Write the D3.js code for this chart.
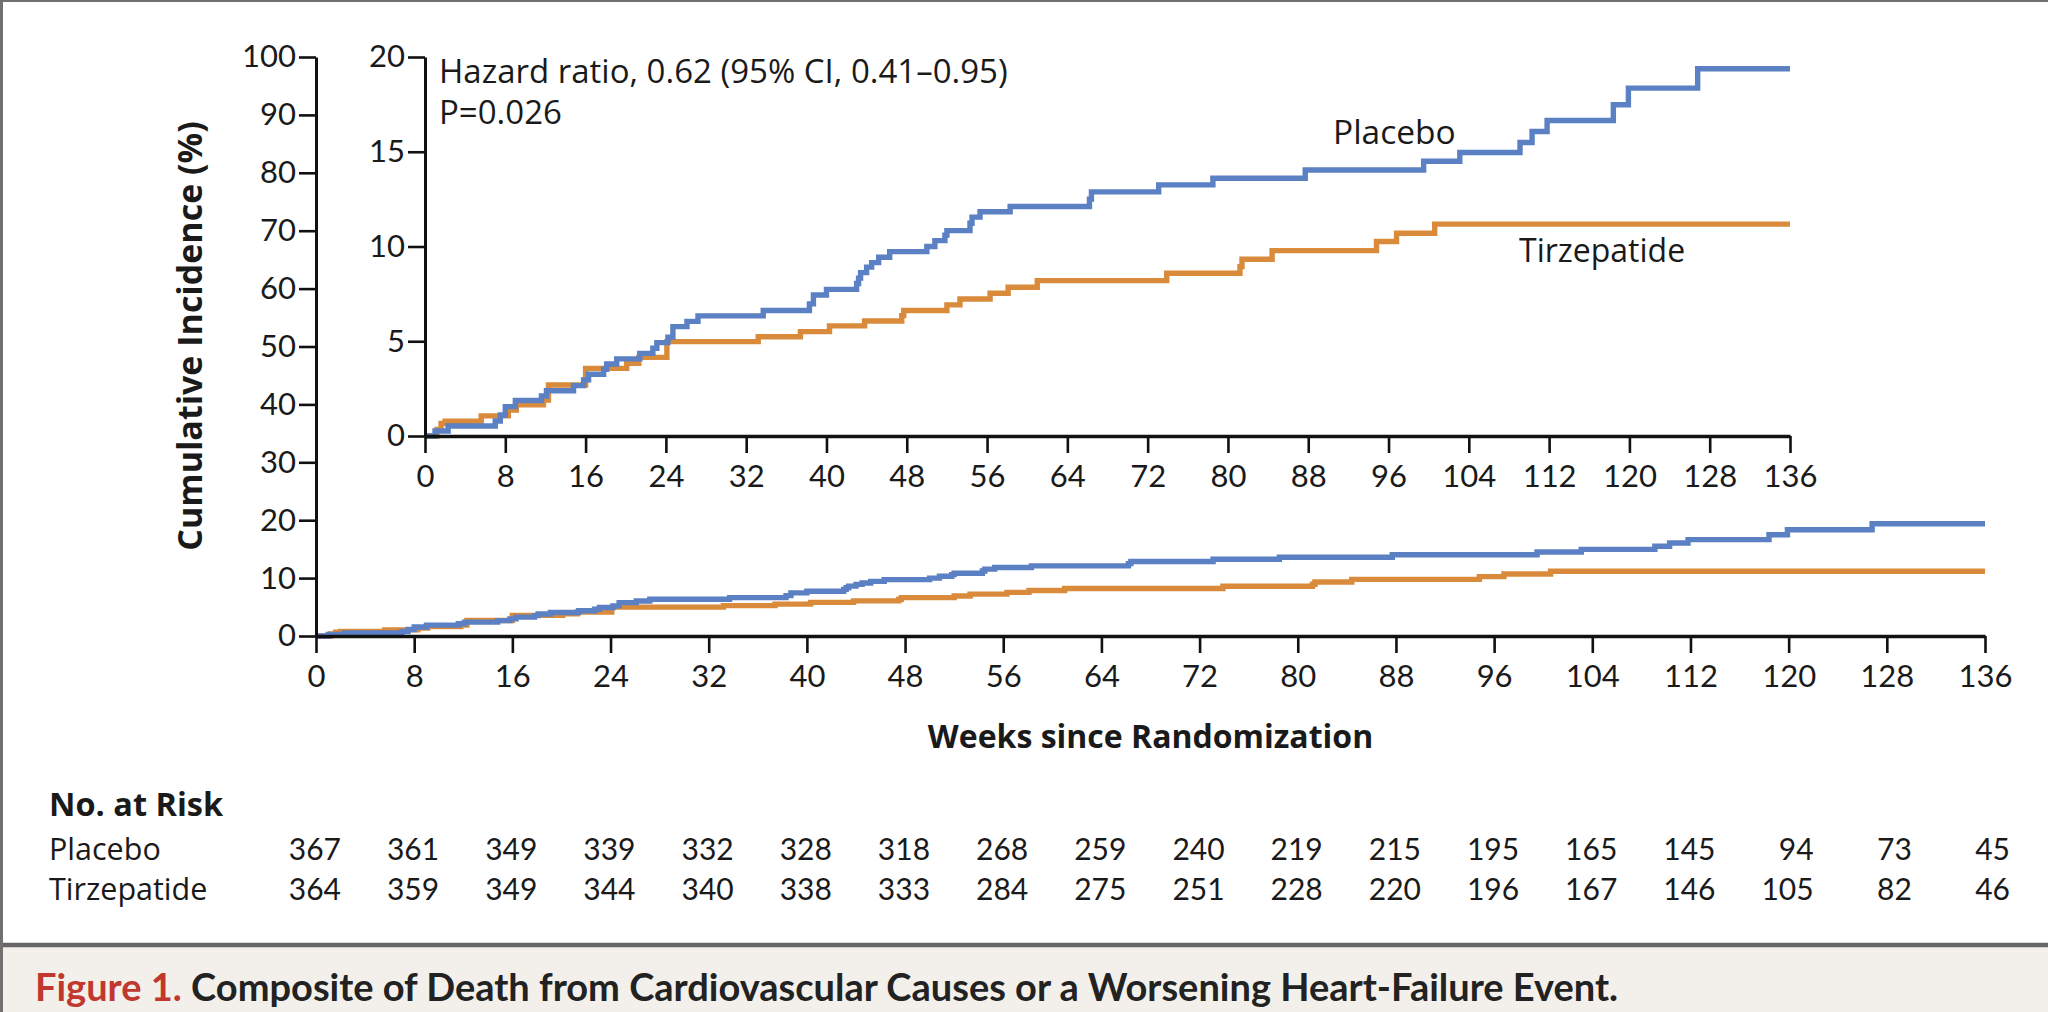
<!DOCTYPE html>
<html>
<head>
<meta charset="utf-8">
<script src="https://cdn.jsdelivr.net/npm/d3@7"></script>
<style>
  html, body { margin: 0; padding: 0; background: #fff; }
  svg { display: block; }
  text { font-family: "Open Sans", Lato, sans-serif; fill: #1a1a1a; }
  .num { font-family: Lato, sans-serif; }
</style>
</head>
<body>
<svg id="chart"></svg>
<script>
// weeks on the x axis
const weekTicks = [0, 8, 16, 24, 32, 40, 48, 56, 64, 72, 80, 88, 96, 104, 112, 120, 128, 136];
const mainYTicks = [0, 10, 20, 30, 40, 50, 60, 70, 80, 90, 100];
const insetYTicks = [0, 5, 10, 15, 20];

// [week, cumulative incidence %]
const placeboSteps = [
  [0, 0], [1.0, 0.26], [2.3, 0.53], [7.0, 0.79], [7.5, 1.11], [8.0, 1.55], [9.0, 1.87],
  [11.6, 2.11], [12.1, 2.39], [14.8, 2.66], [15.8, 2.96], [16.3, 3.26], [17.8, 3.52],
  [18.1, 3.80], [19.1, 4.07], [21.4, 4.36], [22.7, 4.63], [23.1, 4.93], [24.2, 5.21],
  [24.7, 5.77], [26.1, 6.05], [27.2, 6.34], [33.7, 6.62], [38.3, 6.97], [38.7, 7.44],
  [40.0, 7.74], [43.0, 8.05], [43.2, 8.33], [43.4, 8.62], [44.0, 8.91], [44.5, 9.15],
  [45.2, 9.43], [46.3, 9.73], [50.0, 10.0], [50.8, 10.31], [51.8, 10.6], [52.0, 10.84],
  [54.3, 11.23], [54.5, 11.55], [55.3, 11.83], [58.3, 12.11], [66.2, 12.5], [66.4, 12.88],
  [73.1, 13.25], [78.5, 13.6], [87.7, 14.04], [99.5, 14.5], [103.1, 14.96], [109.1, 15.49],
  [110.3, 16.07], [111.8, 16.65], [118.4, 17.48], [119.9, 18.36], [126.8, 19.38], [136, 19.38]
];
const tirzepatideSteps = [
  [0, 0], [1.2, 0.35], [1.6, 0.66], [2.0, 0.78], [5.6, 1.06], [8.3, 1.37], [9.1, 1.64],
  [11.8, 1.90], [12.3, 2.69], [16.0, 3.57], [20.1, 3.84], [21.3, 4.15], [24.1, 4.98],
  [33.2, 5.24], [37.4, 5.51], [40.3, 5.81], [43.8, 6.07], [47.5, 6.35], [47.7, 6.62],
  [52.0, 6.92], [53.3, 7.23], [56.3, 7.53], [58.1, 7.85], [61.0, 8.2], [73.9, 8.59],
  [81.2, 8.94], [81.4, 9.33], [84.4, 9.78], [94.8, 10.26], [96.8, 10.7], [100.6, 11.18],
  [136, 11.18]
];

// no. at risk
const riskPlacebo = [367, 361, 349, 339, 332, 328, 318, 268, 259, 240, 219, 215, 195, 165, 145, 94, 73, 45];
const riskTirzepatide = [364, 359, 349, 344, 340, 338, 333, 284, 275, 251, 228, 220, 196, 167, 146, 105, 82, 46];

const series = [
  {name: "Tirzepatide", steps: tirzepatideSteps, risk: riskTirzepatide, color: "#d98b3b"},
  {name: "Placebo", steps: placeboSteps, risk: riskPlacebo, color: "#5b80c3"}
];

const W = 2048, H = 1012;
const svg = d3.select("#chart").attr("width", W).attr("height", H);

svg.append("rect").attr("width", W).attr("height", H).attr("fill", "#fff");

// main panel scales
const x = d3.scaleLinear().domain([0, 136]).range([316, 1985]);
const y = d3.scaleLinear().domain([0, 100]).range([636, 57]);
// inset scales
const xi = d3.scaleLinear().domain([0, 136]).range([425, 1790]);
const yi = d3.scaleLinear().domain([0, 20]).range([436, 57]);

function styleAxis(g, lineW){
    g.select(".domain").attr("stroke", "#111").attr("stroke-width", lineW);
    g.selectAll(".tick line").attr("stroke", "#111").attr("stroke-width", 2.6);
    g.selectAll(".tick text").attr("fill", "#1a1a1a").attr("class", "num").attr("font-size", 31);
}

function drawPanel(g, xs, ys, yTicks){
    const line = d3.line()
        .x(d => xs(d[0]))
        .y(d => ys(d[1]))
        .curve(d3.curveStepAfter);

    g.selectAll("path.km")
        .data(series)
        .enter().append("path")
            .attr("class", "km")
            .attr("d", d => line(d.steps))
            .attr("fill", "none")
            .attr("stroke", d => d.color)
            .attr("stroke-width", 5.4)
            .attr("stroke-linejoin", "miter");

    const yAxis = g.append("g")
        .attr("transform", "translate(" + xs(0) + ",0)")
        .call(d3.axisLeft(ys).tickValues(yTicks).tickSize(17).tickPadding(3).tickSizeOuter(0));
    styleAxis(yAxis, 3);

    const xAxis = g.append("g")
        .attr("transform", "translate(0," + ys(0) + ")")
        .call(d3.axisBottom(xs).tickValues(weekTicks).tickSize(17).tickPadding(12).tickSizeOuter(0));
    styleAxis(xAxis, 3.6);
}

drawPanel(svg.append("g").attr("class", "main"), x, y, mainYTicks);

const inset = svg.append("g").attr("class", "inset");
drawPanel(inset, xi, yi, insetYTicks);

// annotations inside the inset
inset.append("text").attr("x", 439).attr("y", 83).attr("font-size", 33)
    .text("Hazard ratio, 0.62 (95% CI, 0.41\u20130.95)");
inset.append("text").attr("x", 439).attr("y", 124).attr("font-size", 33)
    .text("P=0.026");
inset.append("text").attr("x", 1333).attr("y", 144).attr("font-size", 33.5).text("Placebo");
inset.append("text").attr("x", 1519).attr("y", 262).attr("font-size", 32).text("Tirzepatide");

// axis titles
svg.append("text")
    .attr("transform", "translate(202,336) rotate(-90)")
    .attr("text-anchor", "middle")
    .attr("font-size", 34).attr("font-weight", 700)
    .text("Cumulative Incidence (%)");

svg.append("text")
    .attr("x", (x(0) + x(136)) / 2).attr("y", 748)
    .attr("text-anchor", "middle")
    .attr("font-size", 32).attr("font-weight", 700)
    .text("Weeks since Randomization");

// risk table
svg.append("text").attr("x", 49).attr("y", 816)
    .attr("font-size", 32.5).attr("font-weight", 700).text("No. at Risk");

const rowY = {Placebo: 860, Tirzepatide: 900};
const rows = svg.selectAll("g.risk")
    .data(series.slice().reverse())
    .enter().append("g").attr("class", "risk")
    .attr("transform", d => "translate(0," + rowY[d.name] + ")");

rows.append("text").attr("x", 49).attr("font-size", 30.5).text(d => d.name);
rows.selectAll("text.n")
    .data(d => d.risk.map((v, i) => ({w: weekTicks[i], v: v})))
    .enter().append("text")
        .attr("class", "num")
        .attr("x", d => x(d.w) + 25)
        .attr("text-anchor", "end")
        .attr("font-size", 30)
        .text(d => d.v);

// caption band
svg.append("rect").attr("x", 0).attr("y", 945).attr("width", W).attr("height", H - 945).attr("fill", "#f3f0eb");
svg.append("line").attr("x1", 0).attr("x2", W).attr("y1", 945).attr("y2", 945)
    .attr("stroke", "#666").attr("stroke-width", 4.5);

const cap = svg.append("text").attr("x", 35).attr("y", 1001)
    .attr("font-size", 38).attr("font-weight", 700).style("font-family", "Lato, sans-serif");
cap.append("tspan").style("fill", "#c0382f").text("Figure 1.");
cap.append("tspan").style("fill", "#222").text(" Composite of Death from Cardiovascular Causes or a Worsening Heart-Failure Event.");

// frame
svg.append("line").attr("x1", 1.5).attr("x2", 1.5).attr("y1", 0).attr("y2", H)
    .attr("stroke", "#707070").attr("stroke-width", 3);
svg.append("line").attr("x1", 0).attr("x2", W).attr("y1", 1).attr("y2", 1)
    .attr("stroke", "#707070").attr("stroke-width", 2);
</script>
</body>
</html>
